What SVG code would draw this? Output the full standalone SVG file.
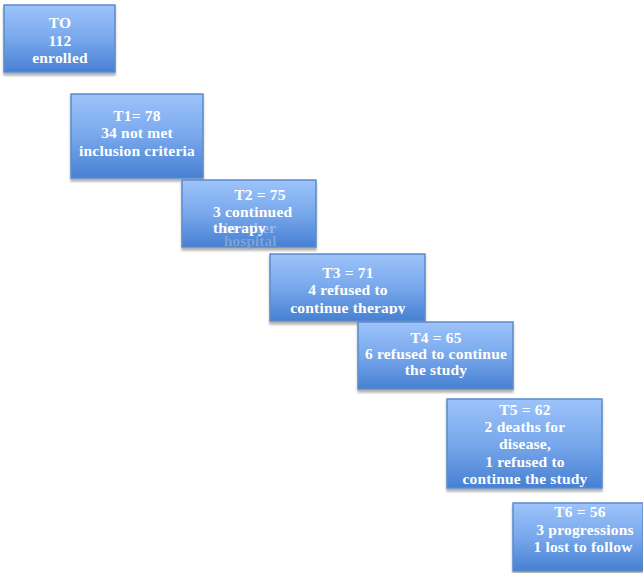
<svg xmlns="http://www.w3.org/2000/svg" width="643" height="573" viewBox="0 0 643 573">
<defs>
<linearGradient id="g" x1="0" y1="0" x2="0" y2="1">
<stop offset="0" stop-color="#9DC3FA"/>
<stop offset="0.5" stop-color="#78A8EC"/>
<stop offset="1" stop-color="#4780D2"/>
</linearGradient>
<filter id="sh" x="-10%" y="-10%" width="120%" height="130%">
<feGaussianBlur in="SourceAlpha" stdDeviation="1"/>
<feOffset dx="0" dy="2.5"/>
<feComponentTransfer><feFuncA type="linear" slope="0.3"/></feComponentTransfer>
<feMerge><feMergeNode/><feMergeNode in="SourceGraphic"/></feMerge>
</filter>
<clipPath id="c3"><rect x="270" y="254" width="155" height="60"/></clipPath>
</defs>
<style>
.box{fill:url(#g);stroke:#5C8ACB;stroke-width:1.5;filter:url(#sh)}
.t{font-family:"Liberation Serif","Times New Roman",serif;font-weight:bold;font-size:15.5px;letter-spacing:0.2px;fill:#FFFFFF;text-anchor:middle}
.f{font-family:"Liberation Serif","Times New Roman",serif;font-weight:bold;font-size:15.5px;fill:#FFFFFF;opacity:0.35}
</style>
<rect width="643" height="573" fill="#FFFFFF"/>
<g id="T0">
<rect class="box" x="4" y="5" width="111" height="67"/>
<text class="t" x="60" y="28">TO</text>
<text class="t" x="60" y="46">112</text>
<text class="t" x="60" y="63">enrolled</text>
</g>
<g id="T1">
<rect class="box" x="71" y="94" width="132" height="84"/>
<text class="t" x="137" y="121">T1= 78</text>
<text class="t" x="137" y="138">34 not met</text>
<text class="t" x="137" y="156">inclusion criteria</text>
</g>
<g id="T2">
<rect class="box" x="182" y="180" width="134" height="67"/>
<text class="t" x="260" y="200">T2 = 75</text>
<text class="f" x="224" y="233">in other</text>
<text class="f" x="224" y="246" style="fill:#8FA9CF;opacity:0.8">hospital</text>
<text class="t" x="213" y="217" style="text-anchor:start">3 continued</text>
<text class="t" x="213" y="233" style="text-anchor:start">therapy</text>
</g>
<g id="T3">
<rect class="box" x="270" y="254" width="155" height="67"/>
<g clip-path="url(#c3)">
<text class="t" x="348" y="278">T3 = 71</text>
<text class="t" x="348" y="295">4 refused to</text>
<text class="t" x="348" y="313">continue therapy</text>
</g>
</g>
<g id="T4">
<rect class="box" x="358" y="322" width="155" height="67"/>
<text class="t" x="436" y="343">T4 = 65</text>
<text class="t" x="436" y="359">6 refused to continue</text>
<text class="t" x="436" y="375">the study</text>
</g>
<g id="T5">
<rect class="box" x="447" y="399" width="155" height="89"/>
<text class="t" x="525" y="415">T5 = 62</text>
<text class="t" x="525" y="432">2 deaths for</text>
<text class="t" x="525" y="449">disease,</text>
<text class="t" x="525" y="467">1 refused to</text>
<text class="t" x="525" y="484">continue the study</text>
</g>
<g id="T6">
<rect class="box" x="513" y="503" width="130" height="68"/>
<text class="t" x="580" y="517">T6 = 56</text>
<text class="t" x="585" y="535">3 progressions</text>
<text class="t" x="583" y="552">1 lost to follow</text>
</g>
<g id="connectors"></g>
</svg>
